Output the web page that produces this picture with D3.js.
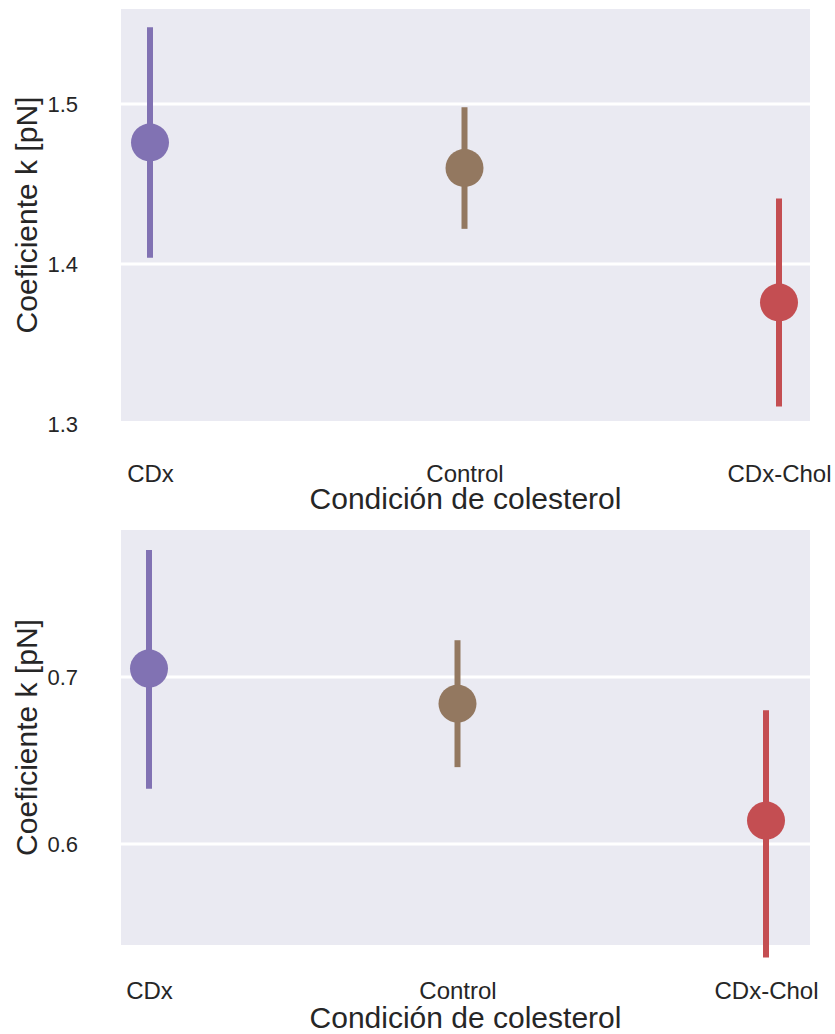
<!DOCTYPE html>
<html>
<head>
<meta charset="utf-8">
<script src="https://cdn.jsdelivr.net/npm/d3@7"></script>
<style>
  html, body { margin: 0; padding: 0; background: #ffffff; }
  svg { display: block; }
  text { font-family: "Liberation Sans", Arial, Helvetica, sans-serif; fill: #262626; }
</style>
</head>
<body>
<svg id="chart" width="835" height="1034"></svg>
<script>
// Cholesterol conditions on the x axis
const categories = ["CDx", "Control", "CDx-Chol"];
const colors = ["#8172b3", "#937860", "#c44e52"];

// Upper panel: mean k and 95% CI bounds
const topMean = [1.476, 1.460, 1.376];
const topLow  = [1.404, 1.422, 1.311];
const topHigh = [1.548, 1.498, 1.441];
const topTicks = [1.3, 1.4, 1.5];

// Lower panel: mean k and 95% CI bounds
const botMean = [0.705, 0.684, 0.614];
const botLow  = [0.633, 0.646, 0.532];
const botHigh = [0.776, 0.722, 0.680];
const botTicks = [0.6, 0.7];

const xLabel = "Condición de colesterol";
const yLabel = "Coeficiente k [pN]";

const svg = d3.select("#chart");

function panel(cfg) {
  const g = svg.append("g");
  const x = d3.scalePoint().domain(categories).range(cfg.xRange);
  const y = d3.scaleLinear().domain(cfg.yDomain).range([cfg.bottom, cfg.top]);

  // plot background
  g.append("rect")
    .attr("x", cfg.left).attr("y", cfg.top)
    .attr("width", cfg.right - cfg.left).attr("height", cfg.bottom - cfg.top)
    .attr("fill", "#eaeaf2");

  // horizontal grid
  g.selectAll("line.grid").data(cfg.ticks.filter(t => y(t) > cfg.top + 2 && y(t) < cfg.bottom - 2))
    .enter().append("line")
    .attr("class", "grid")
    .attr("x1", cfg.left).attr("x2", cfg.right)
    .attr("y1", d => y(d)).attr("y2", d => y(d))
    .attr("stroke", "#ffffff").attr("stroke-width", 3);

  // y tick labels
  const yAxis = d3.axisLeft(y).tickValues(cfg.ticks).tickFormat(d3.format(".1f")).tickSize(0).tickPadding(0);
  const ya = g.append("g").attr("transform", `translate(${cfg.yTickX},0)`).call(yAxis);
  ya.select(".domain").remove();
  ya.selectAll("text")
    .attr("font-size", 22).attr("fill", "#262626")
    .style("font-family", "'Liberation Sans', Arial, sans-serif");

  // x tick labels
  const xAxis = d3.axisBottom(x).tickSize(0).tickPadding(0);
  const xa = g.append("g").attr("transform", `translate(0,${cfg.xTickY})`).call(xAxis);
  xa.select(".domain").remove();
  xa.selectAll("text")
    .attr("dy", null).attr("y", 0)
    .attr("font-size", 24).attr("fill", "#262626")
    .style("font-family", "'Liberation Sans', Arial, sans-serif");

  // confidence intervals
  g.selectAll("line.ci").data(categories).enter().append("line")
    .attr("class", "ci")
    .attr("x1", d => x(d)).attr("x2", d => x(d))
    .attr("y1", (d, i) => y(cfg.low[i])).attr("y2", (d, i) => y(cfg.high[i]))
    .attr("stroke", (d, i) => colors[i]).attr("stroke-width", 6);

  // point estimates
  g.selectAll("circle.pt").data(categories).enter().append("circle")
    .attr("class", "pt")
    .attr("cx", d => x(d)).attr("cy", (d, i) => y(cfg.mean[i]))
    .attr("r", 19)
    .attr("fill", (d, i) => colors[i]);

  // axis titles
  g.append("text")
    .attr("x", (cfg.left + cfg.right) / 2).attr("y", cfg.xLabelY)
    .attr("text-anchor", "middle").attr("font-size", 30)
    .text(xLabel);
  g.append("text")
    .attr("transform", `translate(37,${(cfg.top + cfg.bottom) / 2}) rotate(-90)`)
    .attr("text-anchor", "middle").attr("font-size", 30)
    .text(yLabel);
}

panel({
  left: 121, right: 810, top: 9, bottom: 421,
  yDomain: [1.3019, 1.5594],
  xRange: [150, 779],
  ticks: topTicks,
  mean: topMean, low: topLow, high: topHigh,
  yTickX: 78, xTickY: 482, xLabelY: 509
});

panel({
  left: 121, right: 810, top: 530, bottom: 945,
  yDomain: [0.5395, 0.788],
  xRange: [149, 766],
  ticks: botTicks,
  mean: botMean, low: botLow, high: botHigh,
  yTickX: 78, xTickY: 999, xLabelY: 1028
});
</script>
</body>
</html>
